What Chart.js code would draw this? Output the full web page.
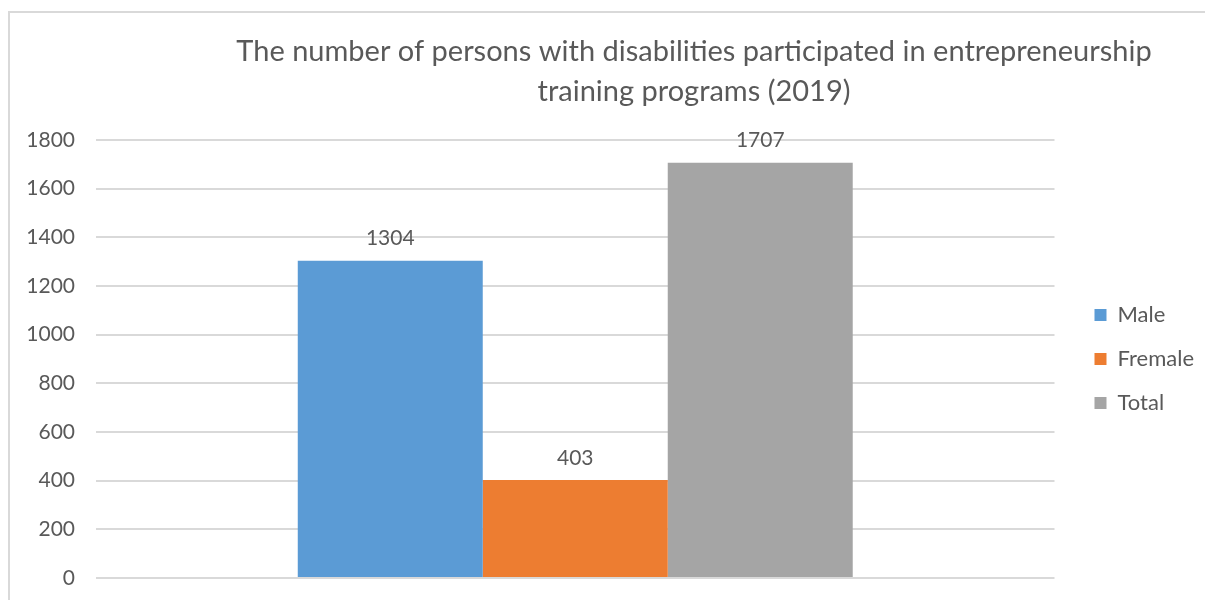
<!DOCTYPE html>
<html>
<head>
<meta charset="utf-8">
<script src="https://cdn.jsdelivr.net/npm/chart.js@4/dist/chart.umd.min.js"></script>
<style>
  html, body { margin: 0; padding: 0; width: 1205px; height: 600px; overflow: hidden; background: #fff; }
  #frame { position: absolute; left: 8px; top: 11px; width: 1400px; height: 800px; border: 2px solid #d9d9d9; box-sizing: border-box; }
  #wrap { position: absolute; left: 0; top: 0; width: 1205px; height: 600px; }
</style>
</head>
<body>
<div id="frame"></div>
<div id="wrap"><canvas id="c" width="1205" height="600"></canvas></div>
<script>
const titleLines = ["The number of persons with disabilities participated in entrepreneurship", "training programs (2019)"];
const categories = [""];
const seriesNames = ["Male", "Fremale", "Total"];
const maleValues = [1304];
const femaleValues = [403];
const totalValues = [1707];
const seriesColors = ["#5B9BD5", "#ED7D31", "#A5A5A5"];
const yTicks = [0, 200, 400, 600, 800, 1000, 1200, 1400, 1600, 1800];

const FONT = "Lato, 'Open Sans', sans-serif";
const TEXT = "#595959";

const titlePlugin = {
  id: 'customTitle',
  afterDraw(chart) {
    const ctx = chart.ctx;
    ctx.save();
    ctx.fillStyle = TEXT;
    ctx.font = "29px " + FONT;
    ctx.textAlign = "center";
    ctx.textBaseline = "middle";
    ctx.fillText(titleLines[0], 694, 52);
    ctx.fillText(titleLines[1], 694, 92);
    ctx.restore();
  }
};

const labelPlugin = {
  id: 'valueLabels',
  afterDatasetsDraw(chart) {
    const ctx = chart.ctx;
    ctx.save();
    ctx.fillStyle = TEXT;
    ctx.font = "21px " + FONT;
    ctx.textAlign = "center";
    ctx.textBaseline = "middle";
    chart.data.datasets.forEach((ds, i) => {
      const meta = chart.getDatasetMeta(i);
      meta.data.forEach((bar, j) => {
        ctx.fillText(String(ds.data[j]), bar.x, bar.y - 22);
      });
    });
    ctx.restore();
  }
};

const seriesData = [maleValues, femaleValues, totalValues];

new Chart(document.getElementById('c'), {
  type: 'bar',
  data: {
    labels: categories,
    datasets: seriesNames.map((n, i) => ({
      label: n,
      data: seriesData[i],
      backgroundColor: seriesColors[i],
      borderWidth: 0,
      categoryPercentage: 0.579,
      barPercentage: 1.0
    }))
  },
  options: {
    responsive: false,
    animation: false,
    devicePixelRatio: 1,
    layout: { padding: { left: 0, right: 1, top: 140, bottom: 22 } },
    plugins: {
      title: { display: false },
      tooltip: { enabled: false },
      legend: {
        position: 'right',
        align: 'center',
        labels: {
          boxWidth: 12,
          boxHeight: 12,
          padding: 22,
          color: TEXT,
          font: { family: FONT, size: 22 }
        }
      }
    },
    scales: {
      x: {
        display: false,
        grid: { display: false }
      },
      y: {
        min: 0,
        max: 1800,
        afterBuildTicks(scale) { scale.ticks = yTicks.map(v => ({ value: v })); },
        afterFit(scale) { scale.width = 96; scale.paddingTop = 0; scale.paddingBottom = 0; },
        ticks: {
          padding: 21,
          color: TEXT,
          font: { family: FONT, size: 21 },
          callback: (v) => String(v)
        },
        grid: { color: '#d9d9d9', lineWidth: 2, drawTicks: false },
        border: { display: false }
      },
      yR: {
        position: 'right',
        display: true,
        ticks: { display: false },
        grid: { display: false, drawTicks: false },
        border: { display: false },
        afterFit(scale) { scale.width = 18; scale.paddingTop = 0; scale.paddingBottom = 0; }
      }
    }
  },
  plugins: [titlePlugin, labelPlugin]
});
</script>
</body>
</html>
